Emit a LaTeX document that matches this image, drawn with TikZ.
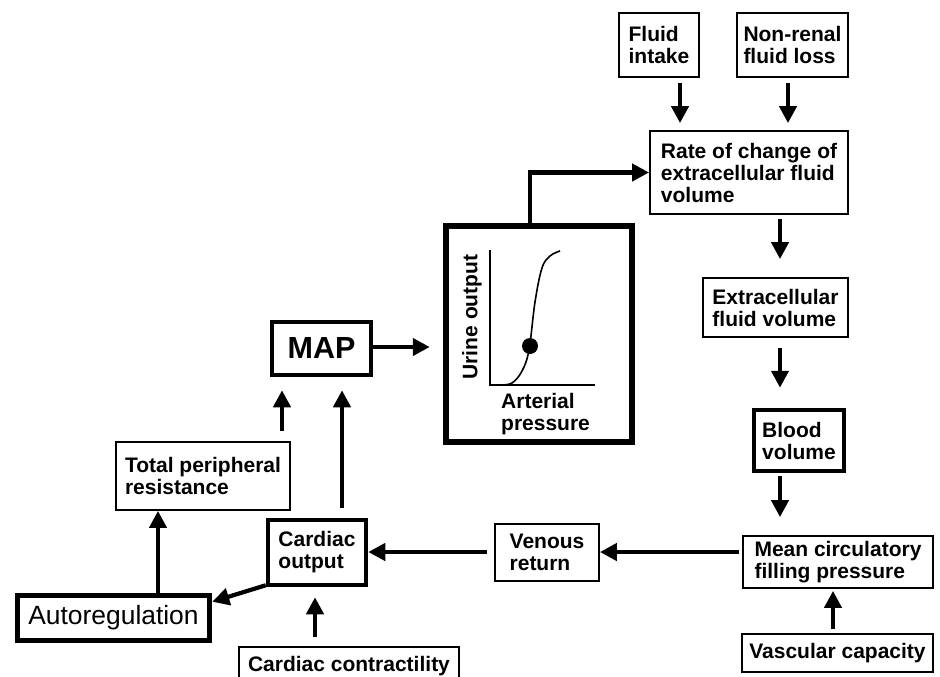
\documentclass[tikz,border=0pt]{standalone}
\usepackage{fontspec}
\setmainfont{Liberation Sans}
\usetikzlibrary{arrows.meta,calc}
\begin{document}
\begin{tikzpicture}[x=1pt,y=-1pt,
  lbl/.style={font=\fontsize{21}{22}\selectfont\bfseries},
  box/.style={draw, line width=1.8pt, inner sep=0pt, lbl, align=left},
  thickbox/.style={box, line width=4.5pt},
  arr/.style={line width=4.2pt, -{Triangle[length=17pt,width=17pt]}},
]
\useasboundingbox (0,0) rectangle (940,677);
\clip (0,0) rectangle (940,677);

% nodes
\node[box, minimum width=80, minimum height=64] (fi) at (659,45) {Fluid\\intake};
\node[box, minimum width=111, minimum height=64] (nr) at (792.5,45) {Non-renal\\fluid loss};
\node[box, minimum width=198, minimum height=83] (rate) at (749,172.5) {Rate of change of\\extracellular fluid\\volume};
\node[box, minimum width=145, minimum height=59] (ecf) at (775.5,307.5) {Extracellular\\fluid volume};
\node[thickbox, minimum width=90, minimum height=61] (bv) at (799,440.5) {Blood\\volume};
\node[box, minimum width=190, minimum height=52] (mcfp) at (838,562) {Mean circulatory\\filling pressure};
\node[box, minimum width=191, minimum height=38] (vc) at (837.5,653) {Vascular capacity};
\node[box, minimum width=104, minimum height=57] (vr) at (547,552.5) {Venous\\return};
\node[thickbox, minimum width=98, minimum height=65] (co) at (317,552.5) {Cardiac\\output};
\node[box, minimum width=174, minimum height=68] (tpr) at (203,476) {Total peripheral\\resistance};
\node[thickbox, minimum width=99, minimum height=53, font=\fontsize{30.5}{32}\selectfont\bfseries] (map) at (321.5,348.5) {MAP};
\node[draw, line width=5.5pt, inner sep=0pt, minimum width=192, minimum height=45, font=\fontsize{26.4}{28}\selectfont] (auto) at (113.5,618) {Autoregulation};
\node[draw, line width=6.5pt, minimum width=186, minimum height=216] (kid) at (539,334) {};
\node[box, minimum width=220, minimum height=38] (cc) at (349,666) {Cardiac contractility};

% graph inside kidney box
\draw[line width=2.5pt] (490,250) -- (490,385) -- (595,385);
\draw[line width=1.6pt] plot[smooth, tension=0.6] coordinates {(500,385) (512,383) (522,371) (529,350) (535,302) (542,268) (550,256) (560,251)};
\fill (530,346) circle (8);
\node[lbl, rotate=90, inner sep=0pt] (uo) at (472,317) {Urine output};
\node[lbl, align=left, anchor=west, inner sep=0pt] (ap) at (501,414) {Arterial\\pressure};

% connectors
\draw[arr, shorten <=5pt, shorten >=7pt] (fi.south -| 680,0) -- (rate.north -| 680,0);
\draw[arr, shorten <=5pt, shorten >=7pt] (nr.south -| 788,0) -- (rate.north -| 788,0);
\draw[arr] (kid.north -| 530,0) |- (rate.west);
\draw[arr, shorten <=4pt, shorten >=18pt] (rate.south -| 780,0) -- (ecf.north -| 780,0);
\draw[arr, shorten <=10pt, shorten >=20pt] (ecf.south -| 780,0) -- (bv.north -| 780,0);
\draw[arr, shorten <=3pt, shorten >=18pt] (bv.south -| 780,0) -- (mcfp.north -| 780,0);
\draw[arr, shorten <=4pt, shorten >=2pt] (vc.north -| 833,0) -- (mcfp.south -| 833,0);
\draw[arr, shorten <=3pt] (mcfp.west |- 0,552) -- (vr.east |- 0,552);
\draw[arr, shorten <=7pt] (vr.west |- 0,552) -- (co.east |- 0,552);
\draw[arr, shorten <=9pt, shorten >=10pt] (cc.north -| 315,0) -- (co.south -| 315,0);
\draw[arr] ($(co.south west)+(0,-2)$) -- ($(auto.north east)+(0,9)$);
\draw[arr] (auto.north -| 158,0) -- (tpr.south -| 158,0);
\draw[arr, shorten <=10pt, shorten >=13pt] (tpr.north -| 282,0) -- (map.south -| 282,0);
\draw[arr, shorten <=10pt, shorten >=13pt] (co.north -| 342,0) -- (map.south -| 342,0);
\draw[arr, shorten >=13pt] (map.east |- 0,347) -- (kid.west |- 0,347);
\end{tikzpicture}
\end{document}
